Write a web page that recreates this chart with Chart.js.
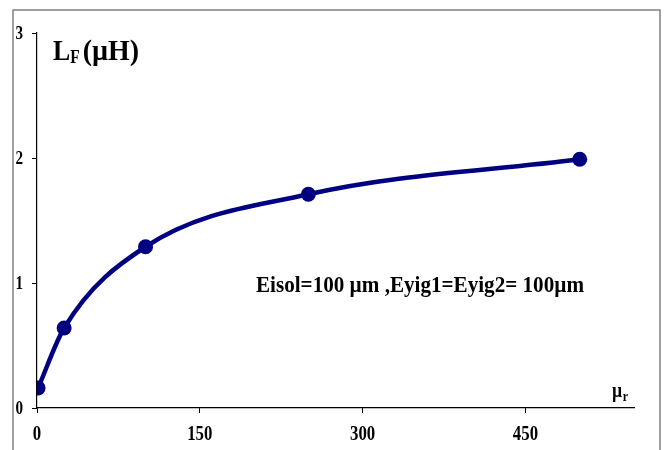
<!DOCTYPE html>
<html><head><meta charset="utf-8">
<script src="https://cdn.jsdelivr.net/npm/chart.js@4/dist/chart.umd.min.js"></script>
<style>html,body{margin:0;padding:0;background:#fff}#c{display:block}</style>
</head><body>
<div style="width:670px;height:450px"><canvas id="c" width="670" height="450"></canvas></div>
<script>
const muR = [1, 25, 100, 250, 500];
const LF = [0.16, 0.64, 1.29, 1.71, 1.99];
const xTicks = [0, 150, 300, 450];
const yTicks = [0, 1, 2, 3];
const annotation = 'Eisol=100 µm ,Eyig1=Eyig2= 100µm';

const FONT = '"Liberation Serif", "Times New Roman", serif';

function sqText(ctx, txt, x, y, font, align, sq) {
  sq = sq || 0.84;
  ctx.save();
  ctx.font = font;
  const w = ctx.measureText(txt).width * sq;
  let x0 = x;
  if (align === 'center') x0 = x - w / 2;
  else if (align === 'right') x0 = x - w;
  ctx.translate(x0, y);
  ctx.scale(sq, 1);
  ctx.textAlign = 'left';
  ctx.fillText(txt, 0, 0);
  ctx.restore();
  return w;
}

const deco = {
  id: 'deco',
  beforeDraw(chart) {
    const ctx = chart.ctx;
    ctx.save();
    ctx.fillStyle = '#fff';
    ctx.fillRect(0, 0, chart.width, chart.height);
    ctx.strokeStyle = '#808080';
    ctx.lineWidth = 1.5;
    ctx.strokeRect(13, 10, 647, 460);
    ctx.restore();
  },
  afterDraw(chart) {
    const ctx = chart.ctx;
    ctx.save();
    ctx.fillStyle = '#000';
    ctx.textBaseline = 'middle';
    const xs = chart.scales.x, ys = chart.scales.y;
    xTicks.forEach(v => sqText(ctx, String(v), xs.getPixelForValue(v), 435, 'bold 20px ' + FONT, 'center'));
    yTicks.forEach(v => sqText(ctx, String(v), 23, ys.getPixelForValue(v) + 1, 'bold 18px ' + FONT, 'right'));
    ctx.textBaseline = 'alphabetic';
    // title L_F (µH)
    let w = sqText(ctx, 'L', 53, 60, 'bold 30px ' + FONT, 'left', 0.86);
    let w2 = sqText(ctx, 'F', 53 + w, 63, 'bold 18px ' + FONT, 'left', 0.86);
    sqText(ctx, '(µH)', 53 + w + w2 + 3, 60, 'bold 30px ' + FONT, 'left', 0.93);
    // µ_r
    w = sqText(ctx, 'µ', 612, 397, 'bold 21px ' + FONT);
    sqText(ctx, 'r', 612 + w + 0.5, 401, 'bold 14px ' + FONT);
    // annotation
    sqText(ctx, annotation, 256, 292, 'bold 24px ' + FONT, 'left', 0.88);
    ctx.restore();
  }
};

new Chart(document.getElementById('c'), {
  type: 'line',
  data: {
    datasets: [{
      data: muR.map((x, i) => ({ x: x, y: LF[i] })),
      borderColor: '#000080',
      backgroundColor: '#000080',
      borderWidth: 4.5,
      pointRadius: 7.5,
      pointBorderWidth: 0,
      cubicInterpolationMode: 'monotone',
      fill: false
    }]
  },
  options: {
    responsive: false,
    animation: false,
    devicePixelRatio: 1,
    layout: { padding: { top: 33, right: 36, left: 0, bottom: 0 } },
    plugins: { legend: { display: false }, tooltip: { enabled: false } },
    scales: {
      x: {
        type: 'linear', min: 0, max: 550,
        afterBuildTicks(s) { s.ticks = xTicks.map(v => ({ value: v })); },
        afterFit(s) { s.height = 42; },
        grid: { drawOnChartArea: false, drawTicks: true, tickLength: 5, tickColor: '#000' },
        border: { display: true, color: '#000', width: 1.2 },
        ticks: { display: false }
      },
      y: {
        type: 'linear', min: 0, max: 3,
        afterBuildTicks(s) { s.ticks = yTicks.map(v => ({ value: v })); },
        afterFit(s) { s.width = 37; },
        grid: { drawOnChartArea: false, drawTicks: true, tickLength: 5, tickColor: '#000' },
        border: { display: true, color: '#000', width: 1.2 },
        ticks: { display: false }
      }
    }
  },
  plugins: [deco]
});
</script>
</body></html>
